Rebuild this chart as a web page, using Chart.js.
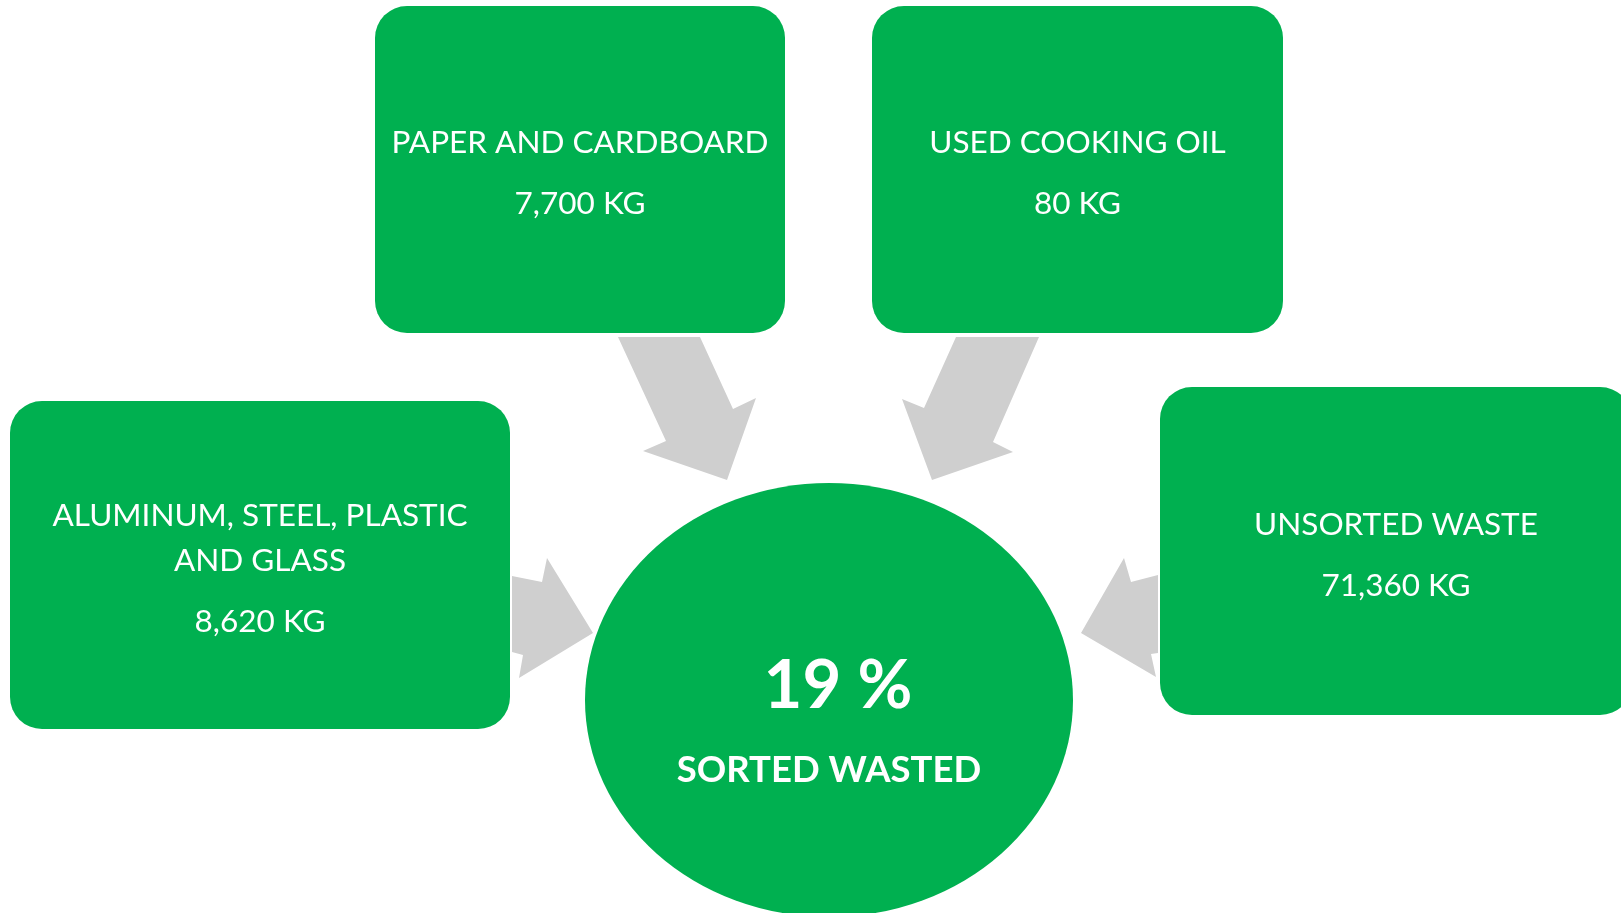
<!DOCTYPE html>
<html>
<head>
<meta charset="utf-8">
<title>Sorted waste</title>
<script src="https://cdn.jsdelivr.net/npm/chart.js@4.4.1/dist/chart.umd.min.js"></script>
<style>
  html, body { margin: 0; padding: 0; background: #fff; }
  #wrap { width: 1621px; height: 913px; position: relative; }
</style>
</head>
<body>
<div id="wrap"><canvas id="chart"></canvas></div>
<script>
// waste streams
const categories = [
  ['PAPER AND CARDBOARD'],
  ['USED COOKING OIL'],
  ['ALUMINUM, STEEL, PLASTIC', 'AND GLASS'],
  ['UNSORTED WASTE']
];
const amountsKg = [7700, 80, 8620, 71360];
const sortedPercent = 19;
const centreLabel = 'SORTED WASTED';

// layout, in page units (x to the right, y downwards)
const boxes = [
  { x0: 375, y0: 6, x1: 785, y1: 333 },
  { x0: 872, y0: 6, x1: 1283, y1: 333 },
  { x0: 10, y0: 401, x1: 510, y1: 729 },
  { x0: 1160, y0: 387, x1: 1632, y1: 715 }
];
const arrows = [
  [[618, 337], [700, 337], [733, 409], [756, 398], [727, 480], [643, 451], [666, 441]],
  [[1039, 337], [956, 337], [924, 408], [902, 399], [932, 480], [1013, 452], [993, 442]],
  [[512, 576], [542, 582], [547, 558], [593, 633], [519, 678], [523, 655], [512, 652]],
  [[1158, 575], [1131, 582], [1124, 558], [1081, 633], [1156, 677], [1151, 654], [1158, 653]]
];
const hub = { cx: 829, cy: 700, rx: 244, ry: 217 };

const green = '#00B050';
const grey = '#CFCFCF';
const fontFamily = 'Lato, "Open Sans", sans-serif';

const diagram = {
  id: 'diagram',
  beforeDatasetsDraw(chart) {
    const { ctx } = chart;
    const xs = chart.scales.x;
    const ys = chart.scales.y;
    const px = v => xs.getPixelForValue(v);
    const py = v => ys.getPixelForValue(v);
    ctx.save();

    ctx.fillStyle = grey;
    arrows.forEach(pts => {
      ctx.beginPath();
      pts.forEach(([ax, ay], i) => {
        if (i === 0) ctx.moveTo(px(ax), py(ay));
        else ctx.lineTo(px(ax), py(ay));
      });
      ctx.closePath();
      ctx.fill();
    });

    boxes.forEach((b, i) => {
      const left = px(b.x0), top = py(b.y0);
      const w = px(b.x1) - left, h = py(b.y1) - top;
      ctx.fillStyle = green;
      ctx.beginPath();
      ctx.roundRect(left, top, w, h, 32);
      ctx.fill();

      const lines = categories[i];
      const cx = left + w / 2;
      const cy = top + h / 2;
      const block = (lines.length - 1) * 45 + 61;
      let base = cy - block / 2 + 14;
      ctx.fillStyle = '#fff';
      ctx.textAlign = 'center';
      ctx.textBaseline = 'alphabetic';
      ctx.font = '31.5px ' + fontFamily;
      lines.forEach((line, j) => {
        ctx.fillText(line, cx, base);
        if (j < lines.length - 1) base += 45;
      });
      base += 61;
      ctx.fillText(amountsKg[i].toLocaleString('en-US') + ' KG', cx, base);
    });

    ctx.fillStyle = green;
    ctx.beginPath();
    ctx.ellipse(px(hub.cx), py(hub.cy), px(hub.rx) - px(0), py(hub.ry) - py(0), 0, 0, Math.PI * 2);
    ctx.fill();

    ctx.fillStyle = '#fff';
    ctx.textAlign = 'center';
    ctx.font = 'bold 67px ' + fontFamily;
    ctx.fillText(sortedPercent + ' %', px(hub.cx + 9), py(708));
    ctx.font = 'bold 36.5px ' + fontFamily;
    ctx.fillText(centreLabel, px(hub.cx), py(782));

    ctx.restore();
  }
};

new Chart(document.getElementById('chart'), {
  type: 'scatter',
  data: {
    datasets: [{
      label: 'waste streams',
      data: boxes.map(b => ({ x: (b.x0 + b.x1) / 2, y: (b.y0 + b.y1) / 2 })),
      pointRadius: 0,
      pointHoverRadius: 0
    }]
  },
  options: {
    responsive: true,
    maintainAspectRatio: false,
    animation: false,
    layout: { padding: 0 },
    plugins: {
      legend: { display: false },
      tooltip: { enabled: false }
    },
    scales: {
      x: { type: 'linear', min: 0, max: 1621, display: false },
      y: { type: 'linear', min: 0, max: 913, reverse: true, display: false }
    }
  },
  plugins: [diagram]
});
</script>
</body>
</html>
